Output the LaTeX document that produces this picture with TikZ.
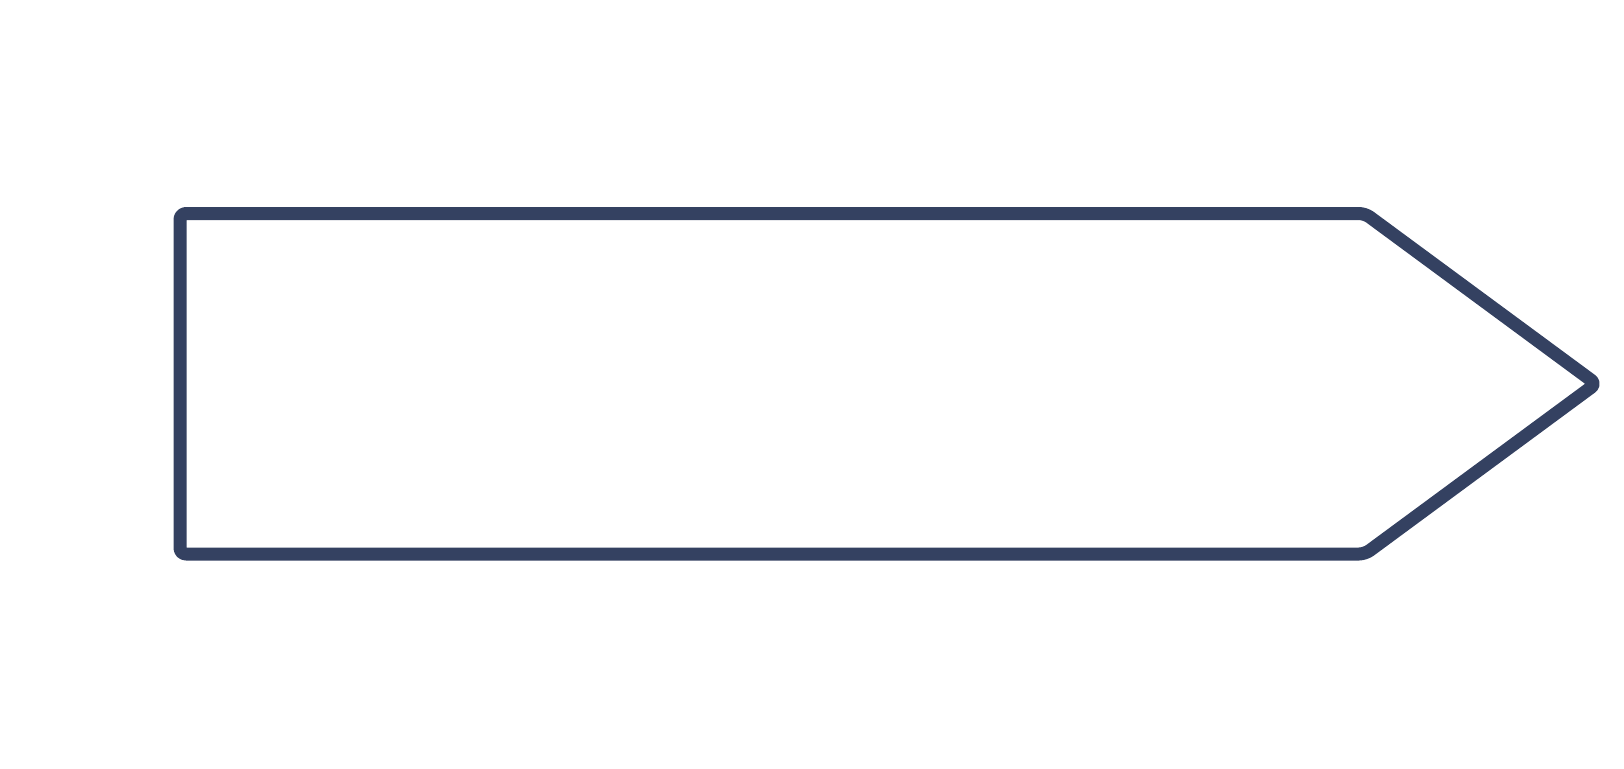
\documentclass[tikz,border=0pt]{standalone}
\usepackage{tikz}

\definecolor{signalline}{HTML}{344161}

\begin{document}
\begin{tikzpicture}[x=0.5pt,y=-0.5pt,line join=round,every path/.style={}]
\useasboundingbox (0,0) rectangle (1624,768);
\coordinate (tl) at (180,213.5);
\coordinate (tr) at (1365,213.5);
\coordinate (tip) at (1596,383.75);
\coordinate (br) at (1365,554);
\coordinate (bl) at (180,554);
\draw[signalline,line width=6.5pt,rounded corners=3pt] (tl) -- (tr) -- (tip) -- (br) -- (bl) -- cycle;
\end{tikzpicture}
\end{document}
